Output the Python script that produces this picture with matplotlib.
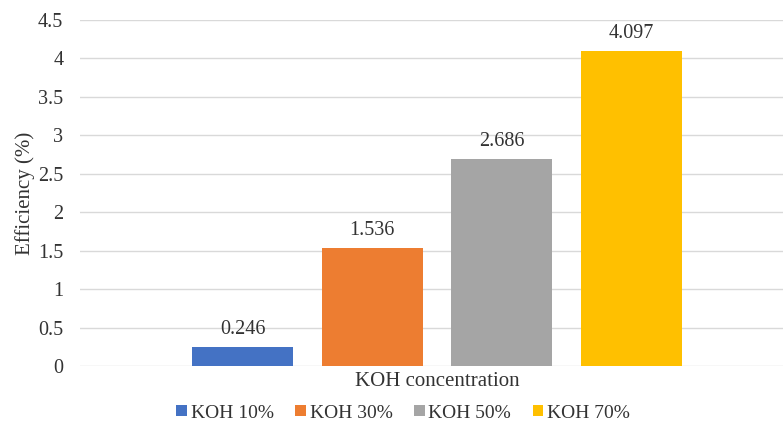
import matplotlib
matplotlib.use("Agg")
import matplotlib.pyplot as plt
from matplotlib.patches import Patch

categories = ["KOH 10%", "KOH 30%", "KOH 50%", "KOH 70%"]
values = [0.246, 1.536, 2.686, 4.097]
value_labels = ["0.246", "1.536", "2.686", "4.097"]
colors = ["#4472C4", "#ED7D31", "#A5A5A5", "#FFC000"]
yticks = [0, 0.5, 1, 1.5, 2, 2.5, 3, 3.5, 4, 4.5]
ytick_labels = ["0", "0.5", "1", "1.5", "2", "2.5", "3", "3.5", "4", "4.5"]

plt.rcParams['font.family'] = ['Liberation Serif', 'DejaVu Serif']
tc = "#333333"

fig = plt.figure(figsize=(7.83, 4.28), dpi=100)
ax = fig.add_axes([80/783, 62/428, 703/783, 346/428])

positions = [-1.5, -0.5, 0.5, 1.5]
bars = ax.bar(positions, values, width=0.78, color=colors, zorder=3)
for b, lab in zip(bars, value_labels):
    ax.annotate(lab, (b.get_x() + b.get_width()/2, b.get_height()),
                xytext=(0, 6), textcoords="offset points",
                ha="center", va="bottom", fontsize=14.5, color=tc)

ax.set_xlim(-2.754, 2.669)
ax.set_ylim(0, 4.5)
ax.set_yticks(yticks)
ax.set_yticklabels(ytick_labels, fontsize=14.5, color=tc)
ax.set_xticks([])
ax.tick_params(axis='y', length=0, pad=12)
ax.grid(axis='y', color="#d9d9d9", linewidth=1.0, zorder=0)
for s in ax.spines.values():
    s.set_visible(False)

fig.text(25/783, (428-193)/428, "Efficiency (%)", rotation=90, ha="center", va="center",
         fontsize=15, color=tc)
fig.text(437/783, (428-382)/428, "KOH concentration", ha="center", va="center",
         fontsize=15, color=tc)

handles = [Patch(facecolor=c, edgecolor='none') for c in colors]
fig.legend(handles, categories, loc="center", bbox_to_anchor=(403/783, (428-413)/428),
           ncol=4, frameon=False, fontsize=14, handlelength=0.55, handleheight=0.55,
           handletextpad=0.2, columnspacing=1.1, labelcolor=tc)

fig.savefig("out.png", dpi=100)
